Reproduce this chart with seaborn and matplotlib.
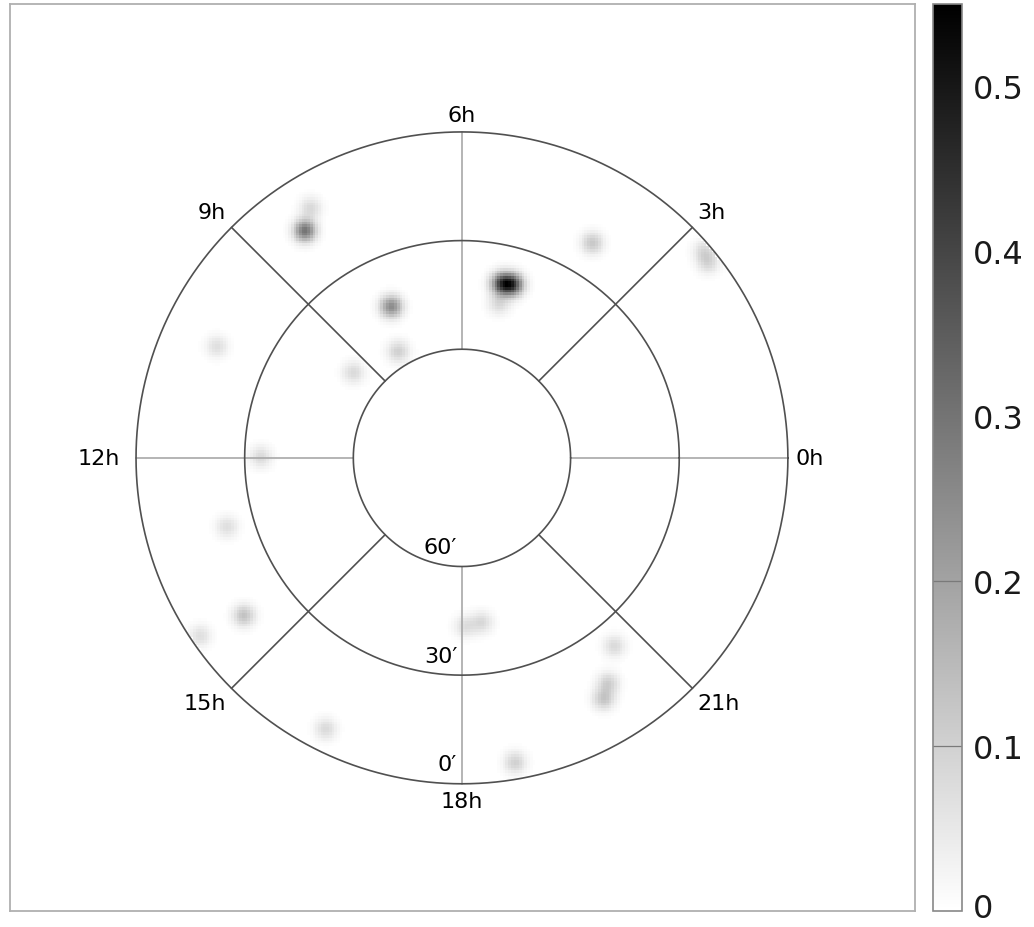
import numpy as np
import matplotlib
matplotlib.use("Agg")
import matplotlib.pyplot as plt
from matplotlib.transforms import ScaledTranslation
import seaborn as sns

# Source density peaks: hour angle (h), declination (deg), peak density
hours = [5.14, 4.91, 5.10, 8.31, 8.08, 7.67, 8.06, 9.45, 10.37, 11.98,
         3.92, 2.70, 2.56, 13.09, 14.39, 14.28, 16.22, 18.07, 18.46,
         18.66, 20.60, 20.20, 20.03]
decs = [40.4, 39.9, 46.0, 13.4, 9.0, 43.7, 55.6, 51.7, 15.4, 34.2,
        20.3, 1.7, 2.9, 22.1, 15.4, 2.2, 5.9, 43.3, 44.1,
        4.3, 22.9, 15.6, 12.5]
peaks = [0.36, 0.36, 0.08, 0.30, 0.08, 0.25, 0.10, 0.08, 0.07, 0.08,
         0.12, 0.08, 0.08, 0.07, 0.13, 0.07, 0.08, 0.07, 0.08,
         0.10, 0.08, 0.10, 0.12]

hour_ticks = [0, 3, 6, 9, 12, 15, 18, 21]
hour_labels = ["0h", "3h", "6h", "9h", "12h", "15h", "18h", "21h"]
dec_rings = [0, 30, 60]
dec_labels = ["0′", "30′", "60′"]
cbar_ticks = [0, 0.1, 0.2, 0.3, 0.4, 0.5]
cbar_labels = ["0", "0.1", "0.2", "0.3", "0.4", "0.5"]
vmax = 0.55

sns.set_theme(style="white")
plt.rcParams["font.family"] = ["DejaVu Sans"]

W, H = 1034, 928
fig = plt.figure(figsize=(W / 100, H / 100), dpi=100)
ax = fig.add_axes([10 / W, (H - 912) / H, 905 / W, 907 / H])
cax = fig.add_axes([933 / W, (H - 912) / H, 29 / W, 907 / H])

cmap = sns.blend_palette(["#ffffff", "#000000"], as_cmap=True)

# Smoothed density map in the projected plane (radius = 90 - dec)
n = 240
xs = np.linspace(-90, 90, n)
X, Y = np.meshgrid(xs, xs)
Z = np.zeros_like(X)
sigma = 2.1
for h, d, p in zip(hours, decs, peaks):
    ang = np.deg2rad(h * 15.0)
    r = 90.0 - d
    x0, y0 = r * np.cos(ang), r * np.sin(ang)
    Z += p * np.exp(-((X - x0) ** 2 + (Y - y0) ** 2) / (2 * sigma ** 2))
R = np.hypot(X, Y)
Z = np.ma.masked_where((Z < 0.004) | (R > 90) | (R < 30), Z)

im = ax.imshow(Z, origin="lower", extent=[-90, 90, -90, 90], cmap=cmap,
               vmin=0, vmax=vmax, interpolation="nearest", zorder=1)

# Declination rings
t = np.linspace(0, 2 * np.pi, 721)
for d in dec_rings:
    r = 90 - d
    ax.plot(r * np.cos(t), r * np.sin(t), color="#505050", lw=1.2, zorder=3)

# Hour spokes from the 60' ring to the equator
for h in hour_ticks:
    ang = np.deg2rad(h * 15.0)
    col = "#a8a8a8" if h % 6 == 0 else "#505050"
    ax.plot([30 * np.cos(ang), 90 * np.cos(ang)],
            [30 * np.sin(ang), 90 * np.sin(ang)], color=col, lw=1.2, zorder=2)

# Hour labels
for h, lab in zip(hour_ticks, hour_labels):
    ang = np.deg2rad(h * 15.0)
    c, s = np.cos(ang), np.sin(ang)
    ha = "left" if c > 0.3 else ("right" if c < -0.3 else "center")
    va = "bottom" if s > 0.3 else ("top" if s < -0.3 else "center")
    rr = 92 if h != 12 else 94.5
    ax.text(rr * c, rr * s, lab, ha=ha, va=va, fontsize=16, color="black")

# Declination labels along the 18h spoke
for d, lab in zip(dec_rings, dec_labels):
    ax.text(-1.3, -(90 - d) + 2.6, lab, ha="right", va="bottom",
            fontsize=16, color="black")

ax.set_xlim(-124.8, 125.1)
ax.set_ylim(-125.1, 125.3)
ax.set_xticks([])
ax.set_yticks([])
for sp in ax.spines.values():
    sp.set_visible(True)
    sp.set_color("#b0b0b0")
    sp.set_linewidth(1.3)

# Colorbar
cb = fig.colorbar(im, cax=cax)
cb.set_ticks(cbar_ticks)
cb.set_ticklabels(cbar_labels)
cax.tick_params(length=0, pad=8, labelsize=23, labelcolor="#1a1a1a")
for v in cbar_ticks[1:3]:
    cax.axhline(v, color="#7a7a7a", lw=0.9)
cb.outline.set_edgecolor("#888888")
cb.outline.set_linewidth(1.2)

# keep the bottom label inside the canvas
fig.canvas.draw()
lbl0 = cax.get_yticklabels()[0]
lbl0.set_transform(lbl0.get_transform() + ScaledTranslation(0, 6 / 100, fig.dpi_scale_trans))

fig.savefig("out.png", dpi=100, facecolor="white")
